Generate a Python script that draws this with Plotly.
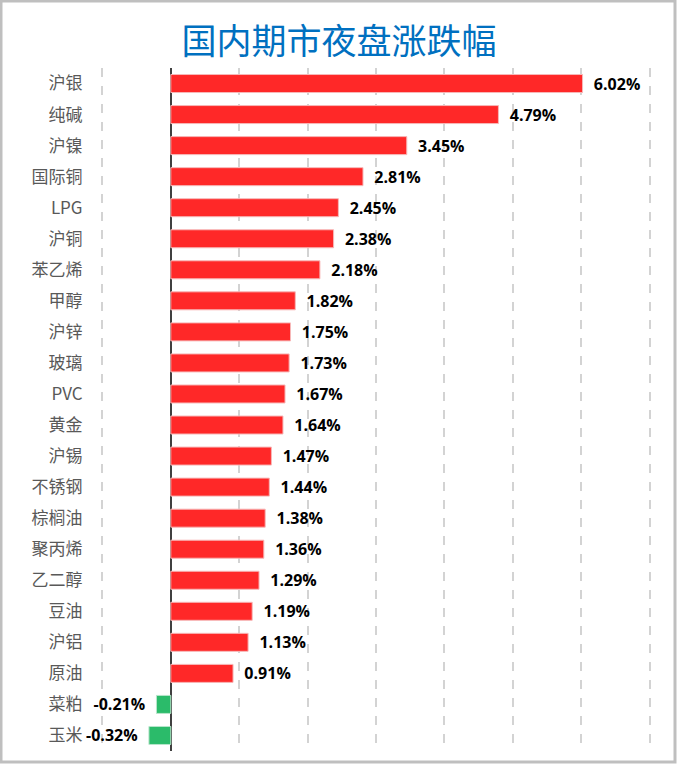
import plotly.graph_objects as go

categories = ["沪银", "纯碱", "沪镍", "国际铜", "LPG", "沪铜", "苯乙烯", "甲醇", "沪锌", "玻璃",
              "PVC", "黄金", "沪锡", "不锈钢", "棕榈油", "聚丙烯", "乙二醇", "豆油", "沪铝", "原油",
              "菜粕", "玉米"]
values = [6.02, 4.79, 3.45, 2.81, 2.45, 2.38, 2.18, 1.82, 1.75, 1.73,
          1.67, 1.64, 1.47, 1.44, 1.38, 1.36, 1.29, 1.19, 1.13, 0.91,
          -0.21, -0.32]
title_text = "国内期市夜盘涨跌幅"

colors = ["#FF2828" if v >= 0 else "#2BBB6A" for v in values]
line_colors = ["#F7B8B8" if v >= 0 else "#B8E6CB" for v in values]
texts = [("\u00a0\u00a0" + f"{v:.2f}%") if v >= 0 else (f"{v:.2f}%" + "\u00a0\u00a0") for v in values]

L, R, T, B = 99, 25, 68, 15
PW = 678 - L - R
PH = 766 - T - B

fig = go.Figure(go.Bar(
    y=categories, x=values, orientation="h",
    marker=dict(color=colors, line=dict(color=line_colors, width=1)),
    width=0.58,
    text=texts, textposition="outside", cliponaxis=False, constraintext="none",
    textfont=dict(family="Open Sans", size=16, color="#000000", weight="bold"),
    hoverinfo="skip",
))

fig.update_layout(
    width=678, height=766,
    margin=dict(l=L, r=R, t=T, b=B, autoexpand=False),
    paper_bgcolor="white", plot_bgcolor="white",
    showlegend=False,
    title=dict(text=title_text, x=0.5, xanchor="center", y=0.945, yanchor="middle",
               font=dict(family="Noto Sans CJK SC", size=35, color="#0070C0")),
    xaxis=dict(range=[-1.05, 7.05], dtick=1, tick0=0, showticklabels=False,
               showgrid=True, gridcolor="#D3D3D3", gridwidth=2, griddash="dash",
               zeroline=True, zerolinecolor="#404040", zerolinewidth=2, fixedrange=True,
               automargin=False),
    yaxis=dict(autorange="reversed", showgrid=False, zeroline=False, automargin=False,
               tickfont=dict(family="Noto Sans CJK SC", size=17, color="#595959"),
               ticks="outside", ticklen=12, tickcolor="rgba(0,0,0,0)", fixedrange=True),
    shapes=[dict(type="rect", xref="paper", yref="paper",
                 x0=(1 - L) / PW, x1=(675 - L) / PW, y0=-(762 - (766 - B)) / PH, y1=((766 - B) - 1) / PH,
                 line=dict(color="#BFBFBF", width=3), fillcolor="rgba(0,0,0,0)", layer="below")],
)

fig.write_html("out.html", config={"displayModeBar": False},
               post_script="document.body.style.margin='0';document.body.style.overflow='hidden';")
